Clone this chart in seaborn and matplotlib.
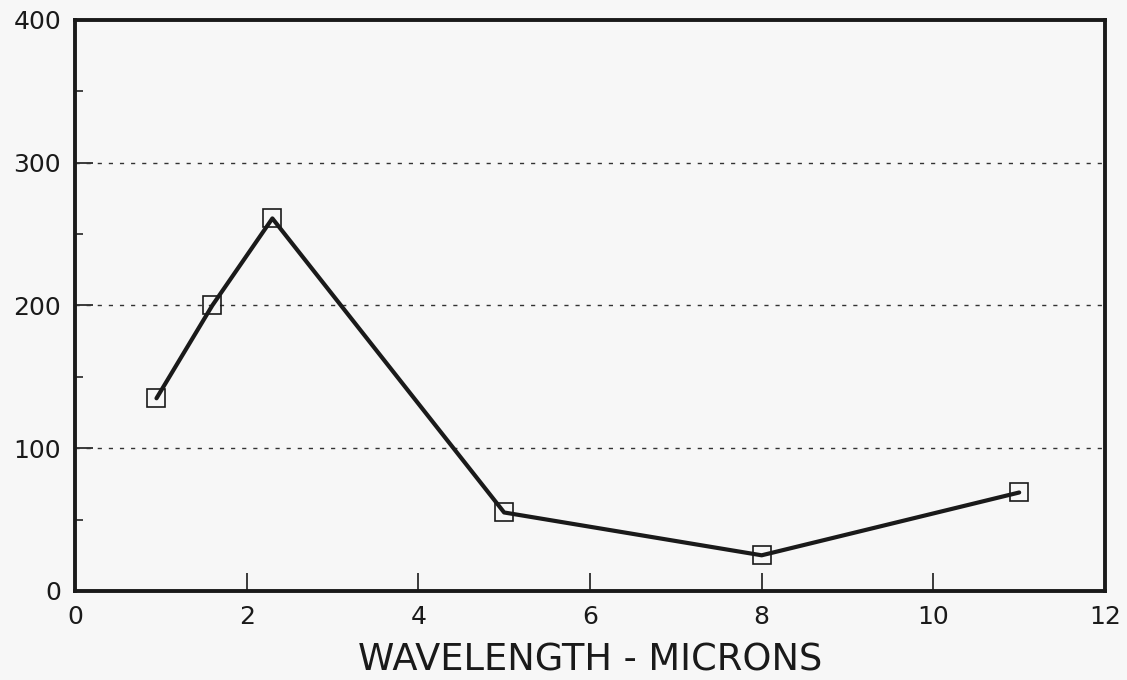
import matplotlib
matplotlib.use("Agg")
import matplotlib.pyplot as plt
import seaborn as sns
import pandas as pd
from matplotlib.ticker import MultipleLocator

wavelength = [0.95, 1.6, 2.3, 5.0, 8.0, 11.0]
values = [135, 200, 261, 55, 25, 69]

df = pd.DataFrame({"wavelength": wavelength, "value": values})

sns.set_style("white")
plt.rcParams['font.family'] = ['DejaVu Sans']

fig = plt.figure(figsize=(11.27, 6.8), dpi=100, facecolor="#f7f7f7")
ax = fig.add_axes([0.0665, 0.1309, 0.914, 0.8397])
ax.set_facecolor("#f7f7f7")

sns.lineplot(data=df, x="wavelength", y="value", ax=ax, color="#1a1a1a",
             linewidth=3.0, marker="s", markersize=13, markerfacecolor="none",
             markeredgecolor="#1a1a1a", markeredgewidth=1.2, zorder=3)

ax.set_xlim(0, 12)
ax.set_ylim(0, 400)
ax.xaxis.set_major_locator(MultipleLocator(2))
ax.yaxis.set_major_locator(MultipleLocator(100))
ax.yaxis.set_minor_locator(MultipleLocator(50))

for y in [100, 200, 300]:
    ax.axhline(y, color="#333333", linestyle=(0, (3, 5)), linewidth=1.0, zorder=1)

for s in ax.spines.values():
    s.set_linewidth(2.8)
    s.set_color("#1a1a1a")

ax.tick_params(axis="both", which="major", direction="in", length=13, width=1.2,
               labelsize=18, colors="#1a1a1a")
ax.tick_params(axis="x", which="major", pad=10, bottom=True)
ax.tick_params(axis="y", which="major", pad=10, left=True)
ax.tick_params(axis="y", which="minor", direction="in", length=6, width=1.2, left=True)

ax.set_xlabel("WAVELENGTH - MICRONS", fontsize=26.5, color="#1a1a1a", labelpad=9)
ax.set_ylabel("")

fig.savefig("out.png", dpi=100, facecolor=fig.get_facecolor())
